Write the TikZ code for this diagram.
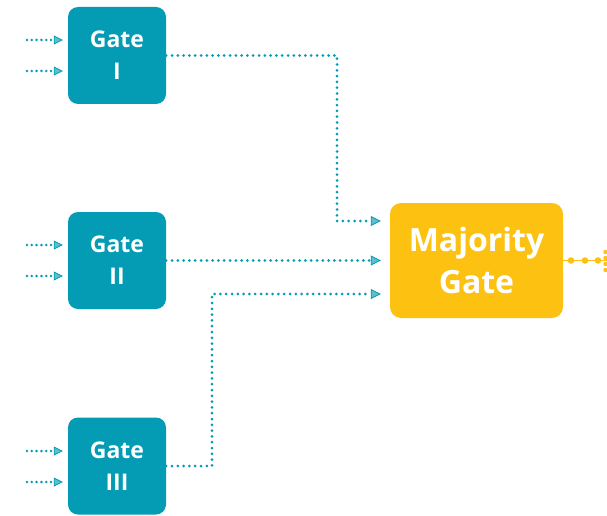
\documentclass[tikz,border=0pt]{standalone}
\usepackage{fontspec}
\setmainfont{Open Sans}
\usetikzlibrary{arrows.meta,calc}
\definecolor{teal1}{RGB}{4,155,180}
\definecolor{gold1}{RGB}{253,193,18}
\begin{document}
\begin{tikzpicture}[x=1pt,y=-1pt,
  gatebox/.style={fill=teal1,rounded corners=10pt,minimum width=98pt,minimum height=97pt,
    text=white,font=\bfseries\fontsize{23}{32}\selectfont,align=center,inner sep=0pt},
  majbox/.style={fill=gold1,rounded corners=11pt,minimum width=173pt,minimum height=115pt,
    text=white,font=\bfseries\fontsize{32}{42}\selectfont,align=center,inner sep=0pt},
  flow/.style={teal1,line width=3pt,line cap=round,dash pattern=on 0pt off 5.8pt,
    -{Triangle[length=10pt,width=10pt,fill=teal1!65,line width=0.8pt]},shorten >=9pt},
  inflow/.style={teal1,line width=2.8pt,line cap=round,dash pattern=on 0pt off 4.8pt,
    -{Triangle[length=9pt,width=9pt,fill=teal1!65,line width=0.8pt]},shorten >=5pt},
  outline/.style={gold1,line width=1.8pt}
]
\useasboundingbox (0,0) rectangle (607,516);
\clip (0,0) rectangle (607,516);
\node[gatebox] (g1) at (117,55.5) {Gate\\I};
\node[gatebox] (g2) at (117,260.5) {Gate\\II};
\node[gatebox] (g3) at (117,466) {Gate\\III};
\node[majbox] (mj) at (476.5,260.5) {Majority\\Gate};
% inputs
\foreach \n/\ya/\yb in {g1/40/71, g2/245/276, g3/451/482}{
  \coordinate (\n a) at (27,\ya);
  \coordinate (\n b) at (27,\yb);
  \draw[inflow] (\n a) -- (\n a -| \n.west);
  \draw[inflow] (\n b) -- (\n b -| \n.west);
}
% connections
\coordinate (j1) at (337,221);
\coordinate (j3) at (212,294);
\draw[flow] (g1.east) -| (j1) -- (j1 -| mj.west);
\draw[flow] (g2.east) -- (mj.west);
\draw[flow] (g3.east) -| (j3) -- (j3 -| mj.west);
% output
\coordinate (out) at (640,260.5);
\draw[outline] (mj.east) -- (out);
\foreach \x in {571,585,598}{\fill[gold1] (\x,260.5) circle (3.3pt);}
\foreach \y in {252,258,264,270}{\fill[gold1] (605.5,\y) circle (2.2pt);}
\end{tikzpicture}
\end{document}
